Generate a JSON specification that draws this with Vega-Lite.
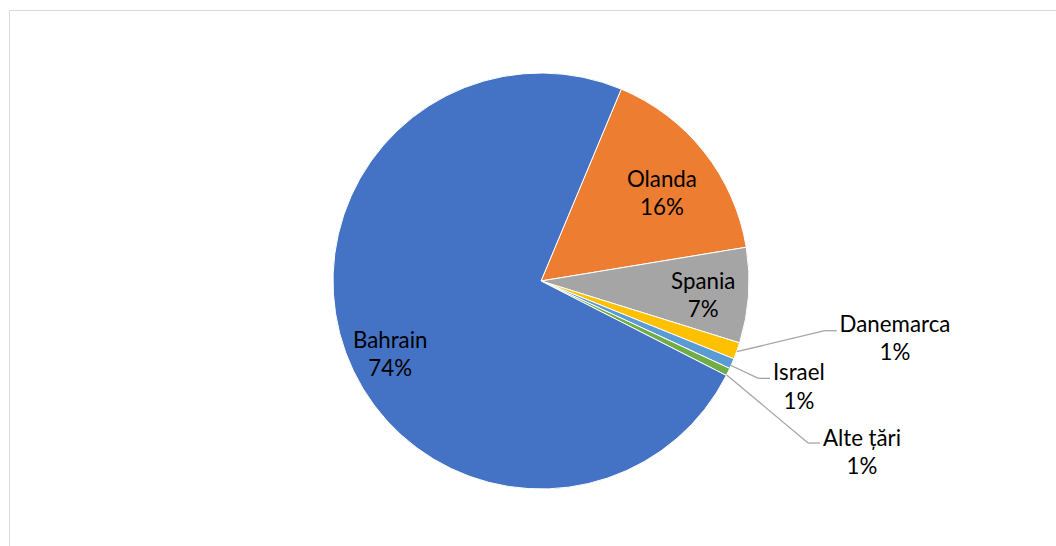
{
  "$schema": "https://vega.github.io/schema/vega-lite/v6.json",
  "width": 1051,
  "height": 540,
  "autosize": "none",
  "padding": {"left": 9, "top": 10, "right": -4, "bottom": -4},
  "background": "white",
  "config": {
    "view": {"stroke": "#d9d9d9", "strokeWidth": 1},
    "text": {"font": "Lato", "fontSize": 22.3, "color": "#000000"}
  },
  "data": {
    "values": [
      {"name": "Olanda", "value": 0.161, "rank": 1},
      {"name": "Spania", "value": 0.074, "rank": 2},
      {"name": "Danemarca", "value": 0.013, "rank": 3},
      {"name": "Israel", "value": 0.008, "rank": 4},
      {"name": "Alte țări", "value": 0.006, "rank": 5},
      {"name": "Bahrain", "value": 0.738, "rank": 6}
    ]
  },
  "encoding": {
    "x": {"datum": 0, "type": "quantitative", "scale": {"domain": [-2.5577, 2.4952], "nice": false, "zero": false}, "axis": null},
    "y": {"datum": 0, "type": "quantitative", "scale": {"domain": [-1.2933, 1.3029], "nice": false, "zero": false}, "axis": null}
  },
  "layer": [
    {
      "mark": {"type": "arc", "outerRadius": 208, "stroke": "white", "strokeWidth": 1},
      "encoding": {
        "theta": {"field": "value", "type": "quantitative", "stack": true, "scale": {"range": [0.3962, 6.6794]}},
        "color": {"field": "name", "type": "nominal", "legend": null,
          "scale": {"domain": ["Olanda", "Spania", "Danemarca", "Israel", "Alte țări", "Bahrain"],
                    "range": ["#ED7D31", "#A5A5A5", "#FFC000", "#5B9BD5", "#70AD47", "#4472C4"]}},
        "order": {"field": "rank", "type": "quantitative"}
      }
    },
    {
      "mark": {"type": "text", "radius": 168, "thetaOffset": -0.105, "dy": -14, "baseline": "middle"},
      "encoding": {
        "theta": {"field": "value", "type": "quantitative", "stack": true},
        "order": {"field": "rank", "type": "quantitative"},
        "text": {"condition": {"test": "datum.name === 'Bahrain'", "field": "name"}, "value": ""}
      }
    },
    {
      "mark": {"type": "text", "radius": 168, "thetaOffset": -0.105, "dy": 14, "baseline": "middle"},
      "encoding": {
        "theta": {"field": "value", "type": "quantitative", "stack": true},
        "order": {"field": "rank", "type": "quantitative"},
        "text": {"condition": {"test": "datum.name === 'Bahrain'", "field": "value", "format": ".0%"}, "value": ""}
      }
    },
    {
      "mark": {"type": "text", "radius": 149, "thetaOffset": 0.0445, "dy": -14, "baseline": "middle"},
      "encoding": {
        "theta": {"field": "value", "type": "quantitative", "stack": true},
        "order": {"field": "rank", "type": "quantitative"},
        "text": {"condition": {"test": "datum.name === 'Olanda'", "field": "name"}, "value": ""}
      }
    },
    {
      "mark": {"type": "text", "radius": 149, "thetaOffset": 0.0445, "dy": 14, "baseline": "middle"},
      "encoding": {
        "theta": {"field": "value", "type": "quantitative", "stack": true},
        "order": {"field": "rank", "type": "quantitative"},
        "text": {"condition": {"test": "datum.name === 'Olanda'", "field": "value", "format": ".0%"}, "value": ""}
      }
    },
    {
      "mark": {"type": "text", "radius": 163, "thetaOffset": 0.025, "dy": -14, "baseline": "middle"},
      "encoding": {
        "theta": {"field": "value", "type": "quantitative", "stack": true},
        "order": {"field": "rank", "type": "quantitative"},
        "text": {"condition": {"test": "datum.name === 'Spania'", "field": "name"}, "value": ""}
      }
    },
    {
      "mark": {"type": "text", "radius": 163, "thetaOffset": 0.025, "dy": 14, "baseline": "middle"},
      "encoding": {
        "theta": {"field": "value", "type": "quantitative", "stack": true},
        "order": {"field": "rank", "type": "quantitative"},
        "text": {"condition": {"test": "datum.name === 'Spania'", "field": "value", "format": ".0%"}, "value": ""}
      }
    },
    {
      "transform": [{"filter": "datum.name === 'Danemarca'"}],
      "mark": {"type": "rule", "color": "#a6a6a6", "strokeWidth": 1.3},
      "encoding": {"x": {"datum": 0.941}, "y": {"datum": -0.340}, "x2": {"datum": 1.365}, "y2": {"datum": -0.239}}
    },
    {
      "transform": [{"filter": "datum.name === 'Danemarca'"}],
      "mark": {"type": "rule", "color": "#a6a6a6", "strokeWidth": 1.3},
      "encoding": {"x": {"datum": 1.365}, "y": {"datum": -0.239}, "x2": {"datum": 1.422}, "y2": {"datum": -0.239}}
    },
    {
      "transform": [{"filter": "datum.name === 'Israel'"}],
      "mark": {"type": "rule", "color": "#a6a6a6", "strokeWidth": 1.3},
      "encoding": {"x": {"datum": 0.909}, "y": {"datum": -0.404}, "x2": {"datum": 1.045}, "y2": {"datum": -0.468}}
    },
    {
      "transform": [{"filter": "datum.name === 'Israel'"}],
      "mark": {"type": "rule", "color": "#a6a6a6", "strokeWidth": 1.3},
      "encoding": {"x": {"datum": 1.045}, "y": {"datum": -0.468}, "x2": {"datum": 1.101}, "y2": {"datum": -0.468}}
    },
    {
      "transform": [{"filter": "datum.name === 'Alte țări'"}],
      "mark": {"type": "rule", "color": "#a6a6a6", "strokeWidth": 1.3},
      "encoding": {"x": {"datum": 0.893}, "y": {"datum": -0.452}, "x2": {"datum": 1.284}, "y2": {"datum": -0.779}}
    },
    {
      "transform": [{"filter": "datum.name === 'Alte țări'"}],
      "mark": {"type": "rule", "color": "#a6a6a6", "strokeWidth": 1.3},
      "encoding": {"x": {"datum": 1.284}, "y": {"datum": -0.779}, "x2": {"datum": 1.341}, "y2": {"datum": -0.779}}
    },
    {
      "transform": [{"filter": "datum.name === 'Danemarca'"}],
      "mark": {"type": "text", "baseline": "middle", "align": "center"},
      "encoding": {"x": {"datum": 1.702}, "y": {"datum": -0.212}, "text": {"field": "name"}}
    },
    {
      "transform": [{"filter": "datum.name === 'Danemarca'"}],
      "mark": {"type": "text", "baseline": "middle", "align": "center"},
      "encoding": {"x": {"datum": 1.702}, "y": {"datum": -0.346}, "text": {"field": "value", "format": ".0%"}}
    },
    {
      "transform": [{"filter": "datum.name === 'Israel'"}],
      "mark": {"type": "text", "baseline": "middle", "align": "center"},
      "encoding": {"x": {"datum": 1.240}, "y": {"datum": -0.444}, "text": {"field": "name"}}
    },
    {
      "transform": [{"filter": "datum.name === 'Israel'"}],
      "mark": {"type": "text", "baseline": "middle", "align": "center"},
      "encoding": {"x": {"datum": 1.240}, "y": {"datum": -0.580}, "text": {"field": "value", "format": ".0%"}}
    },
    {
      "transform": [{"filter": "datum.name === 'Alte țări'"}],
      "mark": {"type": "text", "baseline": "middle", "align": "center"},
      "encoding": {"x": {"datum": 1.543}, "y": {"datum": -0.761}, "text": {"field": "name"}}
    },
    {
      "transform": [{"filter": "datum.name === 'Alte țări'"}],
      "mark": {"type": "text", "baseline": "middle", "align": "center"},
      "encoding": {"x": {"datum": 1.543}, "y": {"datum": -0.893}, "text": {"field": "value", "format": ".0%"}}
    }
  ]
}
